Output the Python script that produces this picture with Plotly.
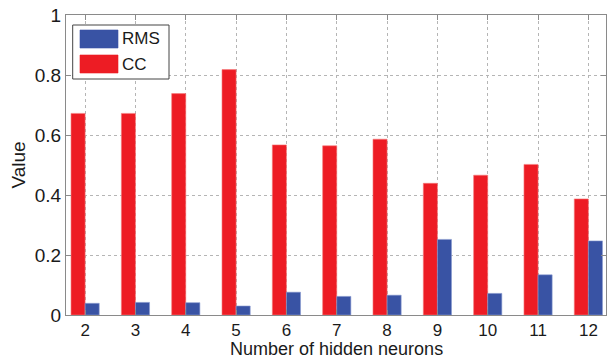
import plotly.graph_objects as go

neurons = [2, 3, 4, 5, 6, 7, 8, 9, 10, 11, 12]
cc_values = [0.672, 0.672, 0.738, 0.818, 0.567, 0.564, 0.586, 0.439, 0.466, 0.502, 0.387]
rms_values = [0.039, 0.042, 0.041, 0.030, 0.076, 0.062, 0.066, 0.252, 0.072, 0.134, 0.247]
y_ticks = [0, 0.2, 0.4, 0.6, 0.8, 1]
y_tick_text = ["0", "0.2", "0.4", "0.6", "0.8", "1"]

RED = "#ED1C24"
BLUE = "#3953A4"
FONT = "Liberation Sans, Arial, sans-serif"
TEXT = "#1a1a1a"

fig = go.Figure()
fig.add_trace(go.Bar(x=neurons, y=cc_values, name="CC",
                     marker=dict(color=RED, line=dict(color="#F57A7A", width=0.6))))
fig.add_trace(go.Bar(x=neurons, y=rms_values, name="RMS",
                     marker=dict(color=BLUE, line=dict(color="#8A9AD0", width=0.6))))

axis_common = dict(showline=True, linecolor="#8a8a8a", linewidth=1, mirror="ticks",
                   ticks="inside", ticklen=5, tickcolor="#8a8a8a",
                   showgrid=True, gridcolor="#b5b5b5", griddash="dot", gridwidth=1,
                   zeroline=False)

fig.update_layout(
    width=608, height=360,
    margin=dict(l=66, r=2, t=15, b=45),
    plot_bgcolor="white", paper_bgcolor="white",
    barmode="group", bargap=0.44, bargroupgap=0,
    showlegend=False,
    xaxis=dict(range=[1.62, 12.35], tickmode="array", tickvals=neurons,
               ticklabelstandoff=0,
               tickfont=dict(family=FONT, size=17, color=TEXT),
               **axis_common),
    yaxis=dict(range=[0, 1], tickmode="array", tickvals=y_ticks, ticktext=y_tick_text,
               ticklabelstandoff=0,
               tickfont=dict(family=FONT, size=19, color=TEXT),
               title=dict(text="Value", standoff=4,
                          font=dict(family=FONT, size=19, color=TEXT)),
               **axis_common),
)

# x-axis title placed against the bottom edge, under the tick labels
fig.add_annotation(xref="paper", yref="paper", x=0.5, y=-45 / 300, yshift=-1,
                   text="Number of hidden neurons", showarrow=False,
                   xanchor="center", yanchor="bottom",
                   font=dict(family=FONT, size=18, color=TEXT))

# Legend box with wide colour swatches
fig.add_shape(type="rect", xref="paper", yref="paper",
              x0=(72.7 - 66) / 540, x1=(169 - 66) / 540,
              y0=(315 - 79) / 300, y1=(315 - 25) / 300,
              line=dict(color="#444444", width=1), fillcolor="white", layer="above")
legend_items = [("RMS", BLUE, 30, 48), ("CC", RED, 55, 73)]
for label, color, top, bottom in legend_items:
    fig.add_shape(type="rect", xref="paper", yref="paper",
                  x0=(80 - 66) / 540, x1=(118 - 66) / 540,
                  y0=(315 - bottom) / 300, y1=(315 - top) / 300,
                  line=dict(color=color, width=0.6), fillcolor=color, layer="above")
    fig.add_annotation(xref="paper", yref="paper", x=(120 - 66) / 540,
                       y=(315 - (top + bottom) / 2) / 300, text=label, showarrow=False,
                       xanchor="left", yanchor="middle",
                       font=dict(family=FONT, size=17, color=TEXT))

fig.write_html("out.html")
